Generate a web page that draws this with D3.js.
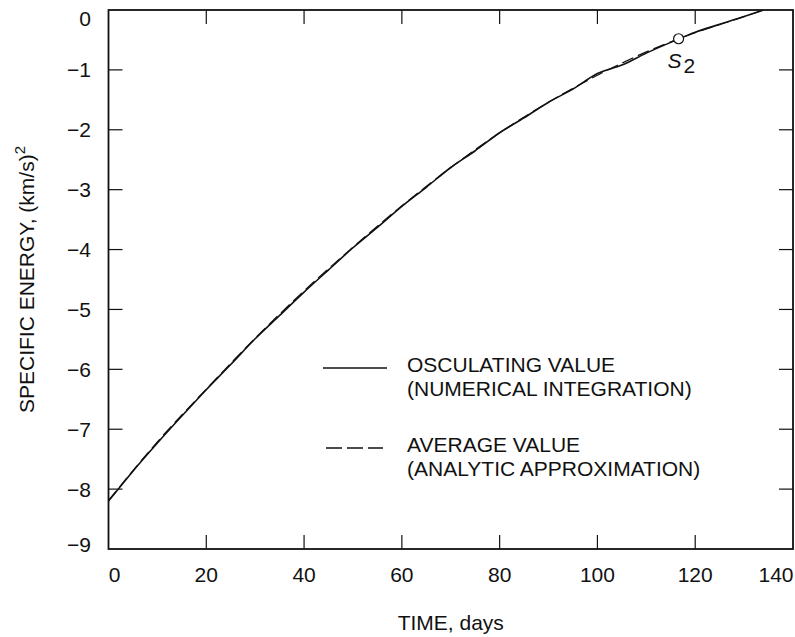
<!DOCTYPE html>
<html lang="en">
<head>
<meta charset="UTF-8">
<title>Specific energy vs time</title>
<script src="https://d3js.org/d3.v7.min.js"></script>
<style>
  body { margin: 0; background: #fff; }
  svg text { font-family: "Liberation Sans", Arial, Helvetica, sans-serif; fill: #111; }
</style>
</head>
<body>
<svg id="chart" width="795" height="637"></svg>
<script>
    // osculating value (numerical integration)
    const oscDays   = [0, 5, 10, 15, 20, 25, 30, 35, 40, 45, 50, 55, 60, 65, 70, 75, 80, 85, 90, 95, 100, 105, 110, 115, 120, 125, 130, 134];
    const oscEnergy = [-8.20, -7.70, -7.23, -6.78, -6.34, -5.92, -5.49, -5.10, -4.71, -4.34, -3.97, -3.63, -3.28, -2.96,
                       -2.63, -2.35, -2.05, -1.80, -1.54, -1.32, -1.06, -0.92, -0.72, -0.54, -0.37, -0.24, -0.11, 0.00];

    // average value (analytic approximation)
    const avgDays   = [0, 10, 20, 30, 40, 50, 60, 70, 80, 90, 100, 110, 120, 130, 134];
    const avgEnergy = [-8.19, -7.21, -6.33, -5.48, -4.69, -3.96, -3.27, -2.63, -2.05, -1.54, -1.09, -0.70, -0.38, -0.11, 0.00];

    const s2Point = [116.6, -0.48];

    const xTicks = [0, 20, 40, 60, 80, 100, 120, 140];
    const yTicks = [0, -1, -2, -3, -4, -5, -6, -7, -8, -9];

    const legendLabels = [
        ["OSCULATING VALUE", "(NUMERICAL INTEGRATION)"],
        ["AVERAGE VALUE", "(ANALYTIC APPROXIMATION)"]
    ];

    const plotL = 108.5, plotR = 793, plotT = 10, plotB = 549;
    const fs = 21;
    const svg = d3.select("#chart");

    const x = d3.scaleLinear().domain([0, 140]).range([plotL, plotR]);
    const y = d3.scaleLinear().domain([-9, 0]).range([plotB, plotT]);

    svg.append("defs").append("clipPath").attr("id", "plot")
        .append("rect").attr("x", plotL).attr("y", plotT)
        .attr("width", plotR - plotL).attr("height", plotB - plotT);

    // ticks, inward on all four sides
    const tickLen = 14;
    const g = svg.append("g").attr("stroke", "#111").attr("stroke-width", 1.2);
    xTicks.slice(1, -1).forEach(t => {
        g.append("line").attr("x1", x(t)).attr("x2", x(t)).attr("y1", plotB).attr("y2", plotB - tickLen);
        g.append("line").attr("x1", x(t)).attr("x2", x(t)).attr("y1", plotT).attr("y2", plotT + tickLen);
    });
    yTicks.slice(1, -1).forEach(v => {
        g.append("line").attr("x1", plotL).attr("x2", plotL + tickLen).attr("y1", y(v)).attr("y2", y(v));
        g.append("line").attr("x1", plotR).attr("x2", plotR - tickLen).attr("y1", y(v)).attr("y2", y(v));
    });

    // tick labels
    svg.selectAll(".xl").data(xTicks).enter().append("text")
        .attr("x", d => d === 0 ? x(d) + 6 : (d === 140 ? x(d) - 17 : x(d)))
        .attr("y", 582)
        .attr("text-anchor", "middle")
        .attr("font-size", fs)
        .text(d => d);

    svg.selectAll(".yl").data(yTicks).enter().append("text")
        .attr("x", 91)
        .attr("y", d => y(d) + 7.5 + (d === 0 ? 8 : d === -9 ? -5 : 0))
        .attr("text-anchor", "end")
        .attr("font-size", fs)
        .text(d => d === 0 ? "0" : "\u2212" + Math.abs(d));

    // axis titles
    svg.append("text")
        .attr("x", (plotL + plotR) / 2).attr("y", 630)
        .attr("text-anchor", "middle").attr("font-size", fs)
        .text("TIME, days");

    const yt = svg.append("text")
        .attr("transform", `translate(34,${(plotT + plotB) / 2}) rotate(-90)`)
        .attr("text-anchor", "middle").attr("font-size", fs);
    yt.append("tspan").text("SPECIFIC ENERGY, (km/s)");
    yt.append("tspan").attr("font-size", 15).attr("dy", -9).text("2");

    // curves
    const line = d3.line().x(d => x(d[0])).y(d => y(d[1])).curve(d3.curveMonotoneX);
    const plot = svg.append("g").attr("clip-path", "url(#plot)");

    plot.append("path")
        .datum(d3.zip(oscDays, oscEnergy))
        .attr("d", line)
        .attr("fill", "none").attr("stroke", "#111").attr("stroke-width", 1.6);

    plot.append("path")
        .datum(d3.zip(avgDays, avgEnergy))
        .attr("d", line)
        .attr("fill", "none").attr("stroke", "#111").attr("stroke-width", 1.2)
        .attr("stroke-dasharray", "12,5");

    // S2 marker
    svg.append("circle")
        .attr("cx", x(s2Point[0])).attr("cy", y(s2Point[1])).attr("r", 5)
        .attr("fill", "#fff").attr("stroke", "#111").attr("stroke-width", 1.2);
    const s2 = svg.append("text")
        .attr("x", x(s2Point[0]) - 11).attr("y", y(s2Point[1]) + 29)
        .attr("font-size", fs);
    s2.append("tspan").attr("font-style", "italic").text("S");
    s2.append("tspan").attr("dx", 2).attr("dy", 5).text("2");

    // frame
    svg.append("rect")
        .attr("x", plotL).attr("y", plotT)
        .attr("width", plotR - plotL).attr("height", plotB - plotT)
        .attr("fill", "none").attr("stroke", "#111").attr("stroke-width", 1.8);

    // legend
    const legend = svg.append("g");
    legend.append("line").attr("x1", 323).attr("x2", 387).attr("y1", 368).attr("y2", 368)
        .attr("stroke", "#111").attr("stroke-width", 1.3);
    legend.append("line").attr("x1", 326).attr("x2", 383).attr("y1", 448).attr("y2", 448)
        .attr("stroke", "#111").attr("stroke-width", 1.3).attr("stroke-dasharray", "16,5");

    const rowY = [372, 452];
    legendLabels.forEach((lines, i) => {
        lines.forEach((txt, j) => {
            legend.append("text")
                .attr("x", 407).attr("y", rowY[i] + j * 24)
                .attr("font-size", fs)
                .text(txt);
        });
    });
</script>
</body>
</html>
